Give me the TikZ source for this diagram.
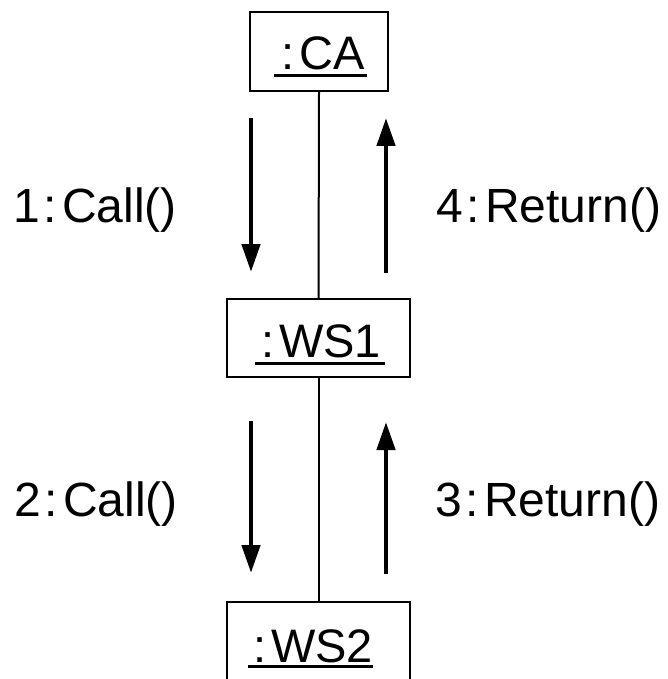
\documentclass[tikz,border=0pt]{standalone}
\usepackage{fontspec}
\setmainfont{Liberation Sans}
\usetikzlibrary{arrows.meta}

\tikzset{
  objbox/.style={draw, line width=2pt, minimum width=183pt, minimum height=78pt, inner sep=0pt},
  objname/.style={inner sep=0pt, anchor=base west, font=\fontsize{47}{52}\selectfont},
  msglabel/.style={inner sep=0pt, anchor=base west, font=\fontsize{48}{52}\selectfont},
  uline/.style={line width=3pt},
  lifeline/.style={line width=2pt},
  msg/.style={line width=4.5pt, -{Triangle[width=18pt, length=28pt]}}
}

\begin{document}
\begin{tikzpicture}[x=1pt, y=-1pt]
  \useasboundingbox (0,0) rectangle (668,679);
  \clip (0,0) rectangle (668,679);

  % objects
  \node[objbox, minimum width=138pt, minimum height=79pt] (ca) at (319,51.5) {};
  \node[objbox] (ws1) at (318.5,338) {};
  \node[objbox] (ws2) at (318.5,641) {};

  % object names, underlined
  \node[objname] (caname) at (281,70) {:\kern5pt CA};
  \node[objname] (wsonename) at (261,357) {:\kern5pt WS1};
  \node[objname] (wstwoname) at (253,662) {:\kern5pt WS2};
  \draw[uline] ([xshift=-7pt, yshift=-6pt]caname.base west) -- ([xshift=2pt, yshift=-6pt]caname.base east);
  \draw[uline] ([xshift=-6pt, yshift=-6pt]wsonename.base west) -- ([xshift=4pt, yshift=-6pt]wsonename.base east);
  \draw[uline] ([xshift=-5pt, yshift=-4pt]wstwoname.base west) -- ([xshift=0pt, yshift=-4pt]wstwoname.base east);

  % links
  \draw[lifeline] (ca.south) -- (ws1.north);
  \draw[lifeline] (ws1.south) -- (ws2.north);

  % message arrows
  \coordinate (c1s) at (251,118);
  \coordinate (c1e) at (251,272);
  \coordinate (r4s) at (386,273);
  \coordinate (r4e) at (386,118);
  \coordinate (c2s) at (251,421);
  \coordinate (c2e) at (251,573);
  \coordinate (r3s) at (386,574);
  \coordinate (r3e) at (386,422);
  \draw[msg] (c1s) -- (c1e);
  \draw[msg] (r4s) -- (r4e);
  \draw[msg] (c2s) -- (c2e);
  \draw[msg] (r3s) -- (r3e);

  % message labels
  \node[msglabel] (l1) at (13,222) {1\kern4pt:\kern5pt Call()};
  \node[msglabel] (l4) at (436,222) {4\kern4pt:\kern5pt Return()};
  \node[msglabel] (l2) at (14,516) {2\kern4pt:\kern5pt Call()};
  \node[msglabel] (l3) at (435,516) {3\kern4pt:\kern5pt Return()};
\end{tikzpicture}
\end{document}
